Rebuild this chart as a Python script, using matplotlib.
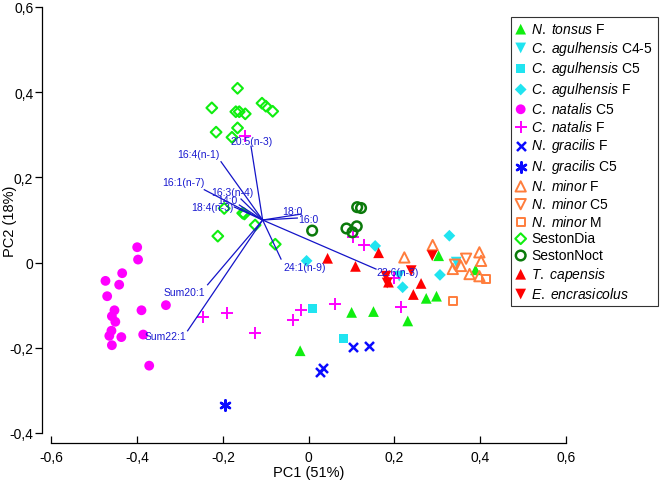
import matplotlib.pyplot as plt
from matplotlib.ticker import FuncFormatter

plt.rcParams['font.family'] = ['Liberation Sans', 'DejaVu Sans']
plt.rcParams['mathtext.fontset'] = 'custom'
plt.rcParams['mathtext.it'] = 'Liberation Sans:italic'
plt.rcParams['mathtext.rm'] = 'Liberation Sans'

# PCA scores (PC1, PC2) per group
tonsus_f_x = [-0.020, 0.100, 0.151, 0.231, 0.274, 0.298, 0.303, 0.389]
tonsus_f_y = [-0.207, -0.117, -0.115, -0.137, -0.084, -0.079, 0.016, -0.017]
agul_c45_x = [0.211, 0.344]
agul_c45_y = [-0.032, 0.001]
agul_c5_x = [0.008, 0.081]
agul_c5_y = [-0.108, -0.178]
agul_f_x = [-0.005, 0.155, 0.219, 0.306, 0.328]
agul_f_y = [0.004, 0.039, -0.058, -0.029, 0.063]
natalis_c5_x = [-0.400, -0.398, -0.435, -0.474, -0.442, -0.470, -0.453, -0.390, -0.333,
                -0.459, -0.451, -0.460, -0.465, -0.437, -0.386, -0.459, -0.372]
natalis_c5_y = [0.036, 0.007, -0.025, -0.043, -0.052, -0.079, -0.112, -0.112, -0.100,
                -0.126, -0.139, -0.160, -0.172, -0.175, -0.169, -0.194, -0.242]
natalis_f_x = [-0.246, -0.191, -0.125, -0.036, -0.017, 0.061, 0.104, 0.130, 0.200, 0.215, -0.149]
natalis_f_y = [-0.127, -0.119, -0.166, -0.136, -0.112, -0.097, 0.061, 0.042, -0.036, -0.105, 0.296]
gracilis_f_x = [0.034, 0.026, 0.104, 0.141]
gracilis_f_y = [-0.248, -0.256, -0.198, -0.196]
gracilis_c5_x = [-0.195]
gracilis_c5_y = [-0.335]
minor_f_x = [0.289, 0.223, 0.398, 0.402, 0.336, 0.355, 0.375, 0.398]
minor_f_y = [0.041, 0.012, 0.024, 0.004, -0.015, -0.008, -0.027, -0.032]
minor_c5_x = [0.367, 0.341]
minor_c5_y = [0.009, -0.005]
minor_m_x = [0.336, 0.413]
minor_m_y = [-0.090, -0.039]
seston_dia_x = [-0.166, -0.226, -0.109, -0.100, -0.084, -0.170, -0.162, -0.148, -0.216,
                -0.166, -0.179, -0.197, -0.154, -0.150, -0.125, -0.212, -0.078]
seston_dia_y = [0.409, 0.363, 0.374, 0.367, 0.355, 0.354, 0.354, 0.349, 0.306,
                0.316, 0.294, 0.127, 0.116, 0.114, 0.088, 0.062, 0.043]
seston_noct_x = [0.008, 0.113, 0.122, 0.088, 0.112, 0.102]
seston_noct_y = [0.075, 0.130, 0.128, 0.080, 0.085, 0.071]
capensis_x = [0.044, 0.109, 0.163, 0.186, 0.262, 0.244]
capensis_y = [0.010, -0.009, 0.023, -0.046, -0.049, -0.075]
encras_x = [0.180, 0.183, 0.239, 0.288]
encras_y = [-0.032, -0.048, -0.019, 0.016]

# fatty acid loadings (vector ends), drawn from a common origin
load_origin = (-0.1075, 0.0998)
load_names = ['20:5(n-3)', '16:4(n-1)', '16:1(n-7)', '16:3(n-4)', '14:0', '18:4(n-3)',
              '18:0', '16:0', '24:1(n-9)', '22:6(n-3)', 'Sum20:1', 'Sum22:1']
load_x = [-0.1346, -0.2045, -0.2435, -0.1579, -0.1618, -0.1735,
          -0.0173, -0.0266, -0.0646, 0.1569, -0.2358, -0.2824]
load_y = [0.2728, 0.2366, 0.1709, 0.1491, 0.1350, 0.1303,
          0.1138, 0.1045, 0.0082, -0.0153, -0.0521, -0.1601]
# label placement: (ha, dx pt, dy pt)
load_label_pos = [('center', 0.5, 4.0), ('right', -1.2, 5.9), ('right', 0, 5.5),
                  ('center', -6.3, 5.0), ('right', -1.4, 3.7), ('right', -0.5, 0),
                  ('right', 0.7, 2.2), ('left', 0.7, -0.7), ('left', 1.7, -5.8),
                  ('left', 0, -1.8), ('right', -1.7, -5.3), ('right', -1.2, -3.8)]

lime = '#10ee10'
cyan = '#20e4f0'
magenta = '#ff00ff'
blue = '#0a0aff'
orange = '#ff7d3c'
dkgreen = '#0b7a0b'
red = '#ff0000'

fig = plt.figure(figsize=(6.61, 4.85), dpi=100)
ax = fig.add_axes([0.0778, 0.1052, 0.7785, 0.8785])

def filled(x, y, m, c, s, label):
    ax.scatter(x, y, marker=m, s=s, color=c, edgecolors='none', label=label, zorder=3)

def hollow(x, y, m, c, s, lw, label):
    ax.scatter(x, y, marker=m, s=s, facecolors='none', edgecolors=c, linewidths=lw,
               label=label, zorder=3)

filled(tonsus_f_x, tonsus_f_y, '^', lime, 60, r'$\mathit{N.}$ $\mathit{tonsus}$ F')
filled(agul_c45_x, agul_c45_y, 'v', cyan, 60, r'$\mathit{C.}$ $\mathit{agulhensis}$ C4-5')
filled(agul_c5_x, agul_c5_y, 's', cyan, 42, r'$\mathit{C.}$ $\mathit{agulhensis}$ C5')
filled(agul_f_x, agul_f_y, 'D', cyan, 36, r'$\mathit{C.}$ $\mathit{agulhensis}$ F')
filled(natalis_c5_x, natalis_c5_y, 'o', magenta, 50, r'$\mathit{C.}$ $\mathit{natalis}$ C5')
ax.scatter(natalis_f_x, natalis_f_y, marker='+', s=80, color=magenta, linewidths=1.4,
           label=r'$\mathit{C.}$ $\mathit{natalis}$ F', zorder=3)
ax.scatter(gracilis_f_x, gracilis_f_y, marker='x', s=42, color=blue, linewidths=1.8,
           label=r'$\mathit{N.}$ $\mathit{gracilis}$ F', zorder=3)
ax.scatter(gracilis_c5_x, gracilis_c5_y, marker=(6, 2, 0), s=55, color=blue, linewidths=1.8,
           label=r'$\mathit{N.}$ $\mathit{gracilis}$ C5', zorder=3)
hollow(minor_f_x, minor_f_y, '^', orange, 55, 1.4, r'$\mathit{N.}$ $\mathit{minor}$ F')
hollow(minor_c5_x, minor_c5_y, 'v', orange, 55, 1.4, r'$\mathit{N.}$ $\mathit{minor}$ C5')
hollow(minor_m_x, minor_m_y, 's', orange, 36, 1.4, r'$\mathit{N.}$ $\mathit{minor}$ M')
hollow(seston_dia_x, seston_dia_y, 'D', lime, 30, 1.5, 'SestonDia')
hollow(seston_noct_x, seston_noct_y, 'o', dkgreen, 48, 1.8, 'SestonNoct')
filled(capensis_x, capensis_y, '^', red, 60, r'$\mathit{T.}$ $\mathit{capensis}$')
filled(encras_x, encras_y, 'v', red, 60, r'$\mathit{E.}$ $\mathit{encrasicolus}$')

# loading vectors
for name, lx, ly, (ha, dx, dy) in zip(load_names, load_x, load_y, load_label_pos):
    ax.plot([load_origin[0], lx], [load_origin[1], ly], color='#1414c8', lw=0.9, zorder=4)
    ax.annotate(name, (lx, ly), xytext=(dx, dy), textcoords='offset points',
                ha=ha, va='center', fontsize=7.5, color='#1a1ad0', zorder=5)

ax.set_xlim(-0.6, 0.6)
ax.set_ylim(-0.4, 0.6)
ax.set_xticks([-0.6, -0.4, -0.2, 0, 0.2, 0.4, 0.6])
ax.set_yticks([-0.4, -0.2, 0, 0.2, 0.4, 0.6])
fmt = FuncFormatter(lambda v, p: '0' if abs(v) < 1e-9 else f'{v:.1f}'.replace('.', ','))
ax.xaxis.set_major_formatter(fmt)
ax.yaxis.set_major_formatter(fmt)

for side in ['top', 'right']:
    ax.spines[side].set_visible(False)
ax.spines['left'].set_position(('outward', 7))
ax.spines['bottom'].set_position(('outward', 7))
ax.spines['left'].set_linewidth(0.9)
ax.spines['bottom'].set_linewidth(0.9)
ax.tick_params(axis='x', direction='in', length=5, width=0.9, pad=5, labelsize=10)
ax.tick_params(axis='y', direction='out', length=5, width=0.9, pad=1, labelsize=10)

ax.set_xlabel('PC1 (51%)', fontsize=10.5, labelpad=1)
ax.set_ylabel('PC2 (18%)', fontsize=10.5, va='center')
ax.yaxis.set_label_coords(-0.08, 0.5)

leg = fig.legend(loc='upper left', bbox_to_anchor=(0.773, 0.963), bbox_transform=fig.transFigure,
                 borderaxespad=0, fontsize=10, frameon=True, fancybox=False,
                 edgecolor='black', handlelength=0.7, handletextpad=0.4,
                 labelspacing=0.2, borderpad=0.35, scatterpoints=1)
leg.get_frame().set_linewidth(0.8)

fig.savefig('out.png', dpi=100)
